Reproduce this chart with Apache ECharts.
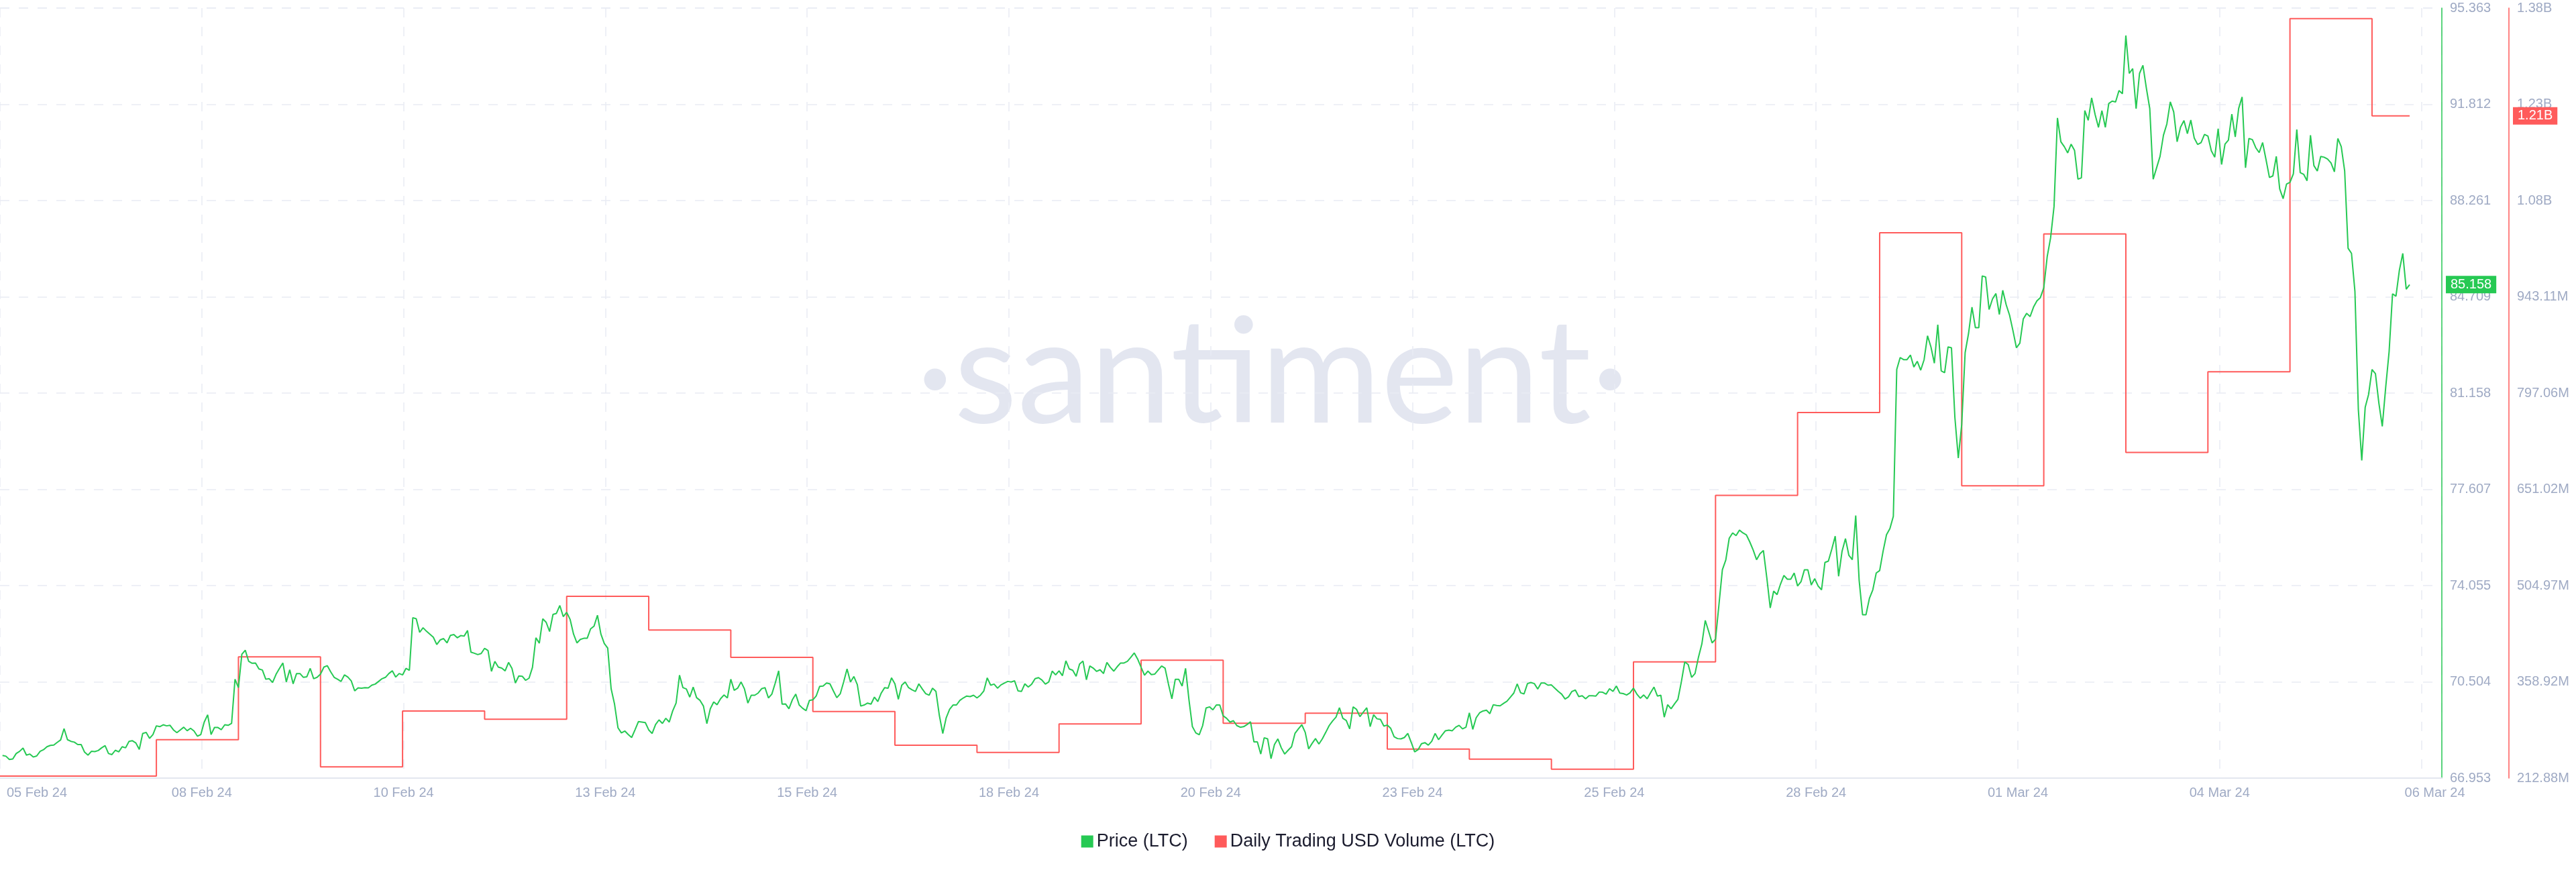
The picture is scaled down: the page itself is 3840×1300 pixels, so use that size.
<!DOCTYPE html>
<html>
<head>
<meta charset="utf-8">
<script src="https://cdn.jsdelivr.net/npm/echarts@6/dist/echarts.min.js"></script>
<style>
  html, body { margin: 0; padding: 0; background: #ffffff; }
  #chart { width: 3840px; height: 1300px; }
</style>
</head>
<body>
<div id="chart"></div>
<script>
// ---------------- DATA ----------------
const seriesNames = ['Price (LTC)', 'Daily Trading USD Volume (LTC)'];

// Hourly LTC price (USD), first value at 2024-02-06 03:00 UTC
const priceStart = '2024-02-06T03:00:00Z';
const priceValues = [
  67.79, 67.76, 67.64, 67.66, 67.86, 67.94, 68.06, 67.80, 67.84, 67.73,
  67.77, 67.94, 68.00, 68.11, 68.16, 68.17, 68.27, 68.36, 68.78, 68.37,
  68.31, 68.28, 68.19, 68.19, 67.91, 67.80, 67.94, 67.93, 67.97, 68.07,
  68.15, 67.86, 67.82, 67.98, 67.92, 68.11, 68.07, 68.31, 68.33, 68.25,
  68.01, 68.60, 68.64, 68.42, 68.56, 68.88, 68.85, 68.92, 68.88, 68.90,
  68.73, 68.63, 68.73, 68.83, 68.70, 68.79, 68.69, 68.50, 68.56, 69.02,
  69.29, 68.56, 68.82, 68.82, 68.74, 68.92, 68.90, 68.97, 70.60, 70.29,
  71.52, 71.67, 71.26, 71.19, 71.20, 70.98, 70.94, 70.60, 70.62, 70.48,
  70.78, 71.00, 71.20, 70.50, 70.95, 70.43, 70.81, 70.81, 70.67, 70.69,
  71.00, 70.62, 70.67, 70.79, 71.05, 71.10, 70.87, 70.67, 70.60, 70.52,
  70.76, 70.68, 70.54, 70.17, 70.28, 70.27,
  70.29, 70.28, 70.38, 70.42, 70.52, 70.62, 70.67, 70.81, 70.91, 70.68,
  70.81, 70.76, 71.00, 70.93, 72.87, 72.83, 72.33, 72.50, 72.37, 72.26,
  72.15, 71.88, 72.05, 72.10, 71.94, 72.22, 72.25, 72.13, 72.21, 72.19,
  72.40, 71.60, 71.56, 71.51, 71.55, 71.74, 71.66, 70.89, 71.26, 71.05,
  71.01, 70.91, 71.22, 71.00, 70.46, 70.72, 70.71, 70.56, 70.64, 71.04,
  72.13, 71.93, 72.83, 72.70, 72.36, 72.99, 73.03, 73.32, 72.91, 73.07,
  72.81, 72.27, 71.94, 72.07, 72.11, 72.11, 72.46, 72.56, 72.96, 72.27,
  71.92, 71.75, 70.25, 69.68, 68.81, 68.62, 68.69, 68.56, 68.45, 68.74,
  69.04, 69.02, 69.00, 68.73, 68.60, 68.93, 69.10, 68.97, 69.16, 69.02,
  69.43, 69.72, 70.75, 70.29, 70.24, 69.94, 70.31, 69.92, 69.82, 69.61,
  68.96, 69.51,
  69.76, 69.66, 69.88, 70.02, 69.91, 70.60, 70.19, 70.27, 70.50, 70.24,
  69.72, 70.01, 70.01, 70.09, 70.25, 70.29, 69.91, 70.05, 70.46, 70.91,
  69.68, 69.69, 69.51, 69.84, 70.05, 69.65, 69.53, 69.44, 69.82, 69.84,
  69.99, 70.34, 70.35, 70.46, 70.43, 70.17, 69.92, 70.06, 70.50, 70.98,
  70.50, 70.70, 70.40, 69.61, 69.65, 69.72, 69.68, 69.94, 69.78, 70.09,
  70.29, 70.27, 70.65, 70.43, 69.86, 70.38, 70.50, 70.29, 70.21, 70.15,
  70.43, 70.24, 70.07, 70.01, 70.27, 70.15, 69.26, 68.60, 69.18, 69.49,
  69.65, 69.65, 69.82, 69.91, 69.98, 69.96, 70.01, 69.91, 70.01, 70.17,
  70.65, 70.38, 70.42, 70.27, 70.39, 70.46, 70.52, 70.50, 70.54, 70.17,
  70.15, 70.43, 70.31, 70.42, 70.62, 70.66, 70.57, 70.42, 70.50, 70.90,
  70.76, 70.91,
  70.73, 71.28, 70.98, 70.93, 70.71, 71.16, 71.27, 70.58, 71.09, 71.01,
  70.89, 70.95, 70.81, 71.22, 71.04, 70.90, 71.06, 71.20, 71.20, 71.26,
  71.41, 71.57, 71.34, 71.04, 70.75, 70.90, 70.77, 70.79, 70.94, 71.09,
  71.01, 70.42, 69.88, 70.60, 70.60, 70.35, 71.00, 69.84, 68.85, 68.62,
  68.55, 68.89, 69.54, 69.58, 69.47, 69.65, 69.65, 69.25, 69.16, 69.02,
  69.07, 68.89, 68.83, 68.85, 68.93, 69.03, 68.29, 68.29, 67.84, 68.44,
  68.40, 67.67, 68.19, 68.40, 68.07, 67.84, 67.98, 68.11, 68.60, 68.77,
  68.92, 68.64, 68.03, 68.23, 68.41, 68.21, 68.40, 68.64, 68.89, 69.06,
  69.20, 69.55, 69.16, 69.08, 68.77, 69.58, 69.49, 69.22, 69.39, 69.55,
  68.85, 69.29, 69.14, 69.12, 68.87, 68.91, 68.79, 68.48, 68.41, 68.40,
  68.45, 68.60,
  68.27, 67.92, 68.00, 68.22, 68.26, 68.17, 68.31, 68.60, 68.37, 68.54,
  68.70, 68.72, 68.70, 68.83, 68.90, 68.77, 68.83, 69.36, 68.75, 69.18,
  69.36, 69.43, 69.46, 69.33, 69.66, 69.63, 69.62, 69.71, 69.79, 69.94,
  70.09, 70.43, 70.10, 70.06, 70.44, 70.48, 70.44, 70.24, 70.46, 70.46,
  70.38, 70.39, 70.27, 70.15, 70.05, 69.87, 69.95, 70.15, 70.20, 69.96,
  69.99, 69.88, 69.99, 69.99, 69.98, 70.13, 70.12, 70.05, 70.25, 70.15,
  70.35, 70.09, 70.07, 70.02, 70.10, 70.27, 70.05, 69.90, 70.02, 69.88,
  70.10, 70.31, 69.98, 70.01, 69.20, 69.66, 69.51, 69.69, 69.86, 70.50,
  71.24, 71.14, 70.67, 70.81, 71.41, 71.90, 72.77, 72.36, 71.94, 72.08,
  73.35, 74.64,
  75.00, 75.80, 76.00, 75.90, 76.10, 76.00,
  75.93, 75.67, 75.37, 75.01, 75.23, 75.35, 74.34, 73.23, 73.85, 73.72,
  74.11, 74.43, 74.29, 74.29, 74.52, 74.04, 74.20, 74.64, 74.64, 74.08,
  74.31, 74.04, 73.90, 74.91, 74.96, 75.40, 75.88, 74.40, 75.32, 75.79,
  75.17, 75.01, 76.64, 74.25, 72.98, 72.98, 73.58, 73.90, 74.52, 74.61,
  75.32, 75.93, 76.16, 76.61, 82.03, 82.47, 82.39, 82.39, 82.56, 82.12,
  82.33, 82.00, 82.39, 83.27, 82.86, 82.26, 83.68, 81.98, 81.91, 82.86,
  82.83, 80.26, 78.76, 80.00, 82.65, 83.36, 84.33, 83.57, 83.57, 85.48,
  85.44, 84.24, 84.63, 84.83, 84.06, 84.95, 84.42, 84.03, 83.45, 82.83,
  83.00, 83.89, 84.10, 83.98, 84.33, 84.56, 84.68, 85.04, 86.19, 86.89,
  88.04, 91.31, 90.43, 90.25, 90.02, 90.34, 90.11, 89.05, 89.10, 91.58,
  91.22, 92.05, 91.44, 90.96, 91.58, 90.96, 91.84, 91.93, 91.90, 92.32,
  92.20,
  94.35, 92.95, 93.13, 91.65, 92.95, 93.25, 92.41, 91.65, 89.05, 89.47,
  89.89, 90.67, 91.09, 91.90, 91.53, 90.43, 90.97, 91.21, 90.73, 91.23,
  90.57, 90.33, 90.40, 90.70, 90.64, 90.10, 89.86, 90.91, 89.59, 90.34,
  90.49, 91.45, 90.61, 91.66, 92.08, 89.47, 90.55, 90.51, 90.21, 90.03,
  90.40, 89.77, 89.11, 89.17, 89.89, 88.69, 88.33, 88.87, 88.93, 89.25,
  90.88, 89.29, 89.23, 88.99, 90.67, 89.55, 89.35, 89.89, 89.86, 89.79,
  89.65, 89.32, 90.55, 90.25, 89.35, 86.50, 86.31, 84.91, 80.55, 78.67,
  80.63, 81.11, 82.03, 81.87, 80.79, 79.93, 81.37, 82.69, 84.82, 84.73,
  85.69, 86.31, 84.99, 85.158
];

// Daily trading volume (USD, millions), one value per UTC day
const volumeDays = [
  '2024-02-06', '2024-02-07', '2024-02-08', '2024-02-09', '2024-02-10',
  '2024-02-11', '2024-02-12', '2024-02-13', '2024-02-14', '2024-02-15',
  '2024-02-16', '2024-02-17', '2024-02-18', '2024-02-19', '2024-02-20',
  '2024-02-21', '2024-02-22', '2024-02-23', '2024-02-24', '2024-02-25',
  '2024-02-26', '2024-02-27', '2024-02-28', '2024-02-29', '2024-03-01',
  '2024-03-02', '2024-03-03', '2024-03-04', '2024-03-05', '2024-03-06'
];
const volumeMillions = [
  216.0, 216.0, 271.2, 396.8, 229.9,
  314.7, 302.1, 488.7, 437.5, 396.1,
  313.9, 262.8, 251.9, 295.0, 391.7,
  296.0, 311.3, 257.0, 241.7, 226.4,
  389.3, 641.8, 767.6, 1040.3, 656.3,
  1038.6, 707.1, 829.4, 1365.2, 1217.7
];

// Tick labels
const xTickLabels = ['05 Feb 24', '08 Feb 24', '10 Feb 24', '13 Feb 24', '15 Feb 24', '18 Feb 24',
  '20 Feb 24', '23 Feb 24', '25 Feb 24', '28 Feb 24', '01 Mar 24', '04 Mar 24', '06 Mar 24'];
const priceTickLabels = ['66.953', '70.504', '74.055', '77.607', '81.158', '84.709', '88.261', '91.812', '95.363'];
const volumeTickLabels = ['212.88M', '358.92M', '504.97M', '651.02M', '797.06M', '943.11M', '1.08B', '1.23B', '1.38B'];

// ---------------- BUILD ----------------
const HOUR = 3600000;
const GREEN = '#26c953';
const RED = '#ff5b5b';
const LABEL = '#9faac4';
const GRID = '#e9ebf3';
const FONT = '"Liberation Sans", Arial, sans-serif';

const X_MIN = Date.UTC(2024, 1, 6, 2, 16);
const X_MAX = X_MIN + 714.15 * HOUR;
const X_INTERVAL = 59.015 * HOUR;

const PRICE_MIN = 66.953, PRICE_MAX = 95.363;
const VOL_MIN = 212877000, VOL_INTERVAL = 146046000;

const t0 = Date.parse(priceStart);
const priceData = priceValues.map((v, i) => [t0 + i * HOUR, v]);
const lastTime = priceData[priceData.length - 1][0];
const lastPrice = priceValues[priceValues.length - 1];

const volumeData = volumeDays.map((d, i) => [Date.parse(d + 'T00:00:00Z'), volumeMillions[i] * 1e6]);
const lastVolume = volumeData[volumeData.length - 1][1];
volumeData.push([lastTime, lastVolume]);

function volFmt(v) {
  if (v >= 1e9) return (Math.floor(v / 1e7) / 100).toFixed(2) + 'B';
  return (v / 1e6).toFixed(2) + 'M';
}

const chart = echarts.init(document.getElementById('chart'), null, { renderer: 'canvas' });
chart.setOption({
  animation: false,
  backgroundColor: '#ffffff',
  textStyle: { fontFamily: FONT },
  graphic: [{
    type: 'text',
    z: -10,
    silent: true,
    style: {
      text: '·santiment·',
      x: 1897, y: 560,
      textAlign: 'center',
      textVerticalAlign: 'middle',
      fontSize: 218,
      fontWeight: 400,
      fontFamily: 'Lato, "Noto Sans", sans-serif',
      fill: '#e3e6f0',
      stroke: '#ffffff',
      lineWidth: 3
    }
  }],
  grid: { left: 0, right: 200, top: 12, bottom: 140, containLabel: false },
  legend: {
    data: seriesNames,
    top: 1236,
    left: 'center',
    icon: 'rect',
    itemWidth: 18,
    itemHeight: 18,
    itemGap: 40,
    textStyle: { fontSize: 27, color: '#1b1c2e', fontFamily: FONT }
  },
  xAxis: {
    type: 'value',
    min: X_MIN,
    max: X_MAX,
    interval: X_INTERVAL,
    axisLine: { show: true, lineStyle: { color: '#e3e7ef', width: 2 } },
    axisTick: { show: false },
    splitLine: { show: true, lineStyle: { color: GRID, width: 1.5, type: [14, 14] } },
    axisLabel: {
      margin: 12,
      color: LABEL,
      fontSize: 20,
      formatter: function (v, i) {
        const t = xTickLabels[i];
        if (t === undefined) return '';
        if (i === 0) return '{first|' + t + '}';
        if (i === xTickLabels.length - 1) return '{last|' + t + '}';
        return t;
      },
      rich: {
        first: { padding: [0, 0, 0, 110], color: LABEL, fontSize: 20, fontFamily: FONT },
        last: { padding: [0, 0, 0, 40], color: LABEL, fontSize: 20, fontFamily: FONT }
      }
    }
  },
  yAxis: [{
    type: 'value',
    position: 'right',
    min: PRICE_MIN,
    max: PRICE_MAX,
    interval: (PRICE_MAX - PRICE_MIN) / 8,
    axisLine: { show: true, lineStyle: { color: GREEN, width: 1.5 } },
    axisTick: { show: false },
    axisLabel: {
      margin: 12, color: LABEL, fontSize: 20,
      formatter: function (v, i) { return priceTickLabels[i] !== undefined ? priceTickLabels[i] : ''; }
    },
    splitLine: { show: true, lineStyle: { color: GRID, width: 1.5, type: [14, 14] } },
    axisPointer: {
      show: true, status: 'show', value: lastPrice, type: 'line', snap: false,
      lineStyle: { opacity: 0 },
      label: {
        show: true, margin: 6, color: '#ffffff', fontSize: 20, padding: [3, 7],
        backgroundColor: GREEN, borderRadius: 0,
        formatter: function (p) { return Number(p.value).toFixed(3); }
      }
    }
  }, {
    type: 'value',
    position: 'right',
    offset: 100,
    min: VOL_MIN,
    max: VOL_MIN + 8 * VOL_INTERVAL,
    interval: VOL_INTERVAL,
    axisLine: { show: true, lineStyle: { color: RED, width: 1.5 } },
    axisTick: { show: false },
    axisLabel: {
      margin: 12, color: LABEL, fontSize: 20,
      formatter: function (v, i) { return volumeTickLabels[i] !== undefined ? volumeTickLabels[i] : ''; }
    },
    splitLine: { show: false },
    axisPointer: {
      show: true, status: 'show', value: lastVolume, type: 'line', snap: false,
      lineStyle: { opacity: 0 },
      label: {
        show: true, margin: 6, color: '#ffffff', fontSize: 20, padding: [3, 7],
        backgroundColor: RED, borderRadius: 0,
        formatter: function (p) { return volFmt(Number(p.value)); }
      }
    }
  }],
  axisPointer: { triggerOn: 'none' },
  series: [{
    name: seriesNames[0],
    type: 'line',
    yAxisIndex: 0,
    data: priceData,
    showSymbol: false,
    symbol: 'none',
    color: GREEN,
    lineStyle: { color: GREEN, width: 2 },
    z: 3
  }, {
    name: seriesNames[1],
    type: 'line',
    yAxisIndex: 1,
    data: volumeData,
    step: 'end',
    showSymbol: false,
    symbol: 'none',
    color: RED,
    lineStyle: { color: RED, width: 2 },
    z: 2
  }]
});
</script>
</body>
</html>
